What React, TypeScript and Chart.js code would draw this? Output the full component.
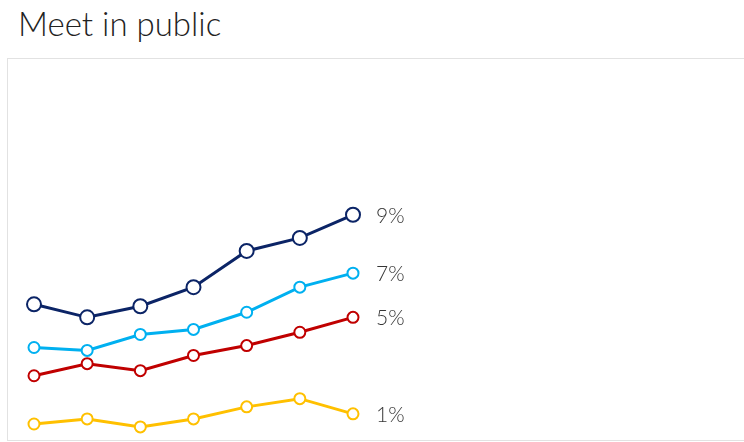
import React, { useEffect, useRef } from "react";
import { Chart, registerables } from "chart.js";

Chart.register(...registerables);

const categories = ["1", "2", "3", "4", "5", "6", "7"];
const navyValues = [5.54, 5.0, 5.46, 6.25, 7.75, 8.29, 9.25];
const cyanValues = [3.75, 3.63, 4.29, 4.5, 5.21, 6.25, 6.83];
const redValues = [2.58, 3.08, 2.79, 3.42, 3.83, 4.38, 5.0];
const yellowValues = [0.58, 0.79, 0.46, 0.79, 1.29, 1.63, 1.0];
const endLabels = ["9%", "7%", "5%", "1%"];

const endLabelPlugin = {
  id: "endLabels",
  afterDatasetsDraw(chart: any) {
    const ctx = chart.ctx;
    ctx.save();
    ctx.font = "300 21px Lato";
    ctx.fillStyle = "#363636";
    ctx.textBaseline = "middle";
    ctx.textAlign = "left";
    chart.data.datasets.forEach((ds: any, i: number) => {
      const meta = chart.getDatasetMeta(i);
      const pt = meta.data[meta.data.length - 1];
      if (!pt) return;
      ctx.fillText(endLabels[i], pt.x + 23, pt.y + 1);
    });
    ctx.restore();
  },
};

export default function App() {
  const ref = useRef<HTMLCanvasElement | null>(null);
  useEffect(() => {
    if (!ref.current) return;
    const mk = (data: number[], color: string, r: number) => ({
      data,
      borderColor: color,
      backgroundColor: "#ffffff",
      pointBackgroundColor: "#ffffff",
      pointBorderColor: color,
      pointBorderWidth: 2,
      pointRadius: r,
      borderWidth: 3,
      tension: 0,
    });
    const chart = new Chart(ref.current, {
      type: "line",
      data: {
        labels: categories,
        datasets: [
          mk(navyValues, "#0b2466", 7),
          mk(cyanValues, "#00b0f0", 5.5),
          mk(redValues, "#c00000", 5.5),
          mk(yellowValues, "#ffc000", 5.5),
        ],
      },
      options: {
        animation: false,
        responsive: false,
        maintainAspectRatio: false,
        layout: { padding: { left: 26, right: 391, top: 17, bottom: 12 } },
        plugins: { legend: { display: false }, tooltip: { enabled: false } },
        scales: {
          x: { display: false, offset: false },
          y: { display: false, min: 0, max: 15 },
        },
      },
      plugins: [endLabelPlugin],
    });
    return () => chart.destroy();
  }, []);

  return (
    <div style={{ position: "absolute", left: 0, top: 0, width: 744, height: 442, overflow: "hidden", background: "#fff" }}>
      <div
        style={{
          position: "absolute",
          left: 18,
          top: 3,
          fontFamily: "Lato",
          fontWeight: 300,
          fontSize: 33,
          lineHeight: "40px",
          color: "#222",
          whiteSpace: "nowrap",
        }}
      >
        Meet in public
      </div>
      <div
        style={{
          position: "absolute",
          left: 7,
          top: 58,
          width: 760,
          height: 381,
          border: "1px solid #e2e2e2",
          boxSizing: "content-box",
        }}
      >
        <canvas ref={ref} width={736} height={391} style={{ display: "block", width: 736, height: 391 }} />
      </div>
    </div>
  );
}
